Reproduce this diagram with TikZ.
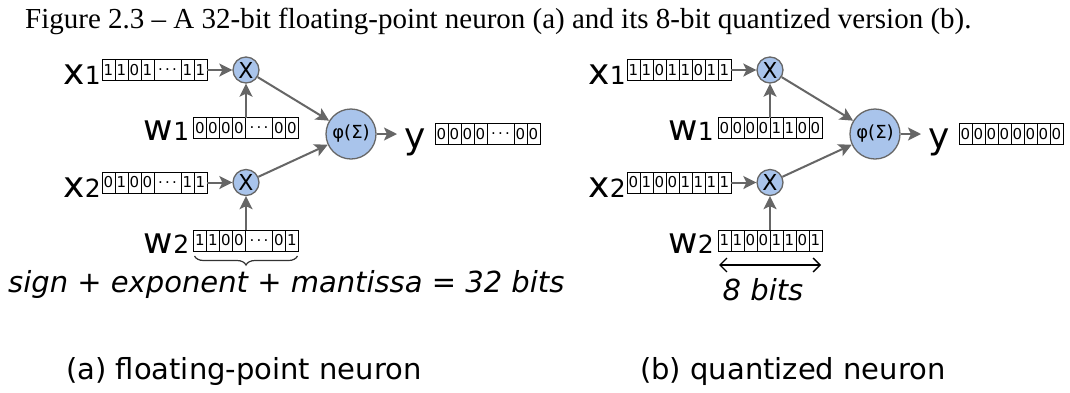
\documentclass[tikz,border=0pt]{standalone}
\usepackage{fontspec}
\setmainfont{DejaVu Sans}
\newfontfamily\capfont{Liberation Serif}
\usetikzlibrary{arrows.meta,fit,calc,decorations.pathreplacing}
\definecolor{edgegray}{HTML}{666666}
\definecolor{nodeblue}{HTML}{A9C4EB}
\newcommand\bdots{\makebox[19pt]{.\hfill.\hfill.}}
\newcommand\varlab[2]{{\fontsize{36}{36}\selectfont #1}{\fontsize{25}{25}\selectfont #2}}
\newcommand\bitrow[4]{%
  \foreach \s/\t [count=\i, remember=\i as \j (initially 0)] in {#3} {
    \ifnum\i=1
      \node[cell\s] (#1-\i) at (#2) {\t};
    \else
      \node[cell\s] (#1-\i) at (#1-\j.east) {\t};
    \fi
  }
  \node[fit=(#1-1)(#1-#4), inner sep=0pt, outer sep=0pt] (#1) {};
}
\begin{document}
\begin{tikzpicture}[x=1pt,y=-1pt,
  cellc/.style={draw=black, line width=1pt, minimum width=13pt, minimum height=21pt,
    inner sep=0pt, outer sep=0pt, anchor=west, font=\fontsize{15}{15}\selectfont},
  celld/.style={cellc, minimum width=27pt},
  opnode/.style={circle, draw=edgegray, fill=nodeblue, line width=1.3pt,
    minimum size=26pt, inner sep=0pt, font=\fontsize{22}{22}\selectfont},
  actnode/.style={opnode, minimum size=50pt, font=\fontsize{18}{18}\selectfont},
  lab/.style={inner sep=0pt, anchor=base east},
  ylab/.style={inner sep=0pt, anchor=base west, font=\fontsize{36}{36}\selectfont},
  arr/.style={draw=edgegray, line width=2pt, -{Stealth[length=13pt,width=13pt,inset=3pt]}},
  bracestyle/.style={draw=black!80, line width=1.2pt, decorate,
    decoration={brace, mirror, amplitude=9pt}},
  dbl/.style={draw=black, line width=1.3pt,
    {Straight Barb[length=7pt,width=14pt]}-{Straight Barb[length=7pt,width=14pt]}},
  note/.style={inner sep=0pt, font=\itshape\fontsize{29}{29}\selectfont},
  sub/.style={inner sep=0pt, anchor=base west, font=\fontsize{29}{29}\selectfont}
]
\useasboundingbox (0,0) rectangle (1070,392);
\fill[white] (0,0) rectangle (1070,392);

\node[inner sep=0pt, anchor=base west, font=\capfont\fontsize{29}{29}\selectfont] (cap)
  at (25,28) {Figure 2.3 – A 32-bit floating-point neuron (a) and its 8-bit quantized version (b).};

% ---------------- (a) floating-point neuron ----------------
\bitrow{xa1}{102,70}{c/1,c/1,c/0,c/1,d/\bdots,c/1,c/1}{7}
\bitrow{wa1}{193.5,128}{c/0,c/0,c/0,c/0,d/\bdots,c/0,c/0}{7}
\bitrow{xa2}{102,182.5}{c/0,c/1,c/0,c/0,d/\bdots,c/1,c/1}{7}
\bitrow{wa2}{193.5,240.5}{c/1,c/1,c/0,c/0,d/\bdots,c/0,c/1}{7}
\bitrow{ybita}{435,134}{c/0,c/0,c/0,c/0,d/\bdots,c/0,c/0}{7}

\node[opnode] (ma1) at (246,70) {X};
\node[opnode] (ma2) at (246,182.5) {X};
\node[actnode] (phia) at (351,134) {φ(Σ)};
\node[ylab] (ya) at (404,148) {y};

\node[lab] (lxa1) at ($(xa1.south west)+(-1,4)$) {\varlab{x}{1}};
\node[lab] (lwa1) at ($(wa1.south west)+(-4,2)$) {\varlab{w}{1}};
\node[lab] (lxa2) at ($(xa2.south west)+(-1,4)$) {\varlab{x}{2}};
\node[lab] (lwa2) at ($(wa2.south west)+(-4,2)$) {\varlab{w}{2}};

\draw[arr] (xa1.east) -- (ma1);
\draw[arr] (xa2.east) -- (ma2);
\draw[arr] (wa1) -- (ma1);
\draw[arr] (wa2) -- (ma2);
\draw[arr] (ma1) -- (phia);
\draw[arr] (ma2) -- (phia);
\draw[arr, shorten >=7pt] (phia.east) -- (phia.east -| ya.west);

\draw[bracestyle] ($(wa2.south west)+(1,5)$) -- ($(wa2.south east)+(-1,5)$);
\node[note, anchor=base west] (nota) at (8,292) {sign + exponent + mantissa = 32 bits};

\node[sub] (suba) at (66,379) {(a) floating-point neuron};

% ---------------- (b) quantized neuron ----------------
\begin{scope}[xshift=524pt]
\bitrow{xb1}{103,70}{c/1,c/1,c/0,c/1,c/1,c/0,c/1,c/1}{8}
\bitrow{wb1}{194,128}{c/0,c/0,c/0,c/0,c/1,c/1,c/0,c/0}{8}
\bitrow{xb2}{103,182.5}{c/0,c/1,c/0,c/0,c/1,c/1,c/1,c/1}{8}
\bitrow{wb2}{194,240.5}{c/1,c/1,c/0,c/0,c/1,c/1,c/0,c/1}{8}
\bitrow{ybitb}{435,134}{c/0,c/0,c/0,c/0,c/0,c/0,c/0,c/0}{8}

\node[opnode] (mb1) at (246,70) {X};
\node[opnode] (mb2) at (246,182.5) {X};
\node[actnode] (phib) at (351,134) {φ(Σ)};
\node[ylab] (yb) at (404,148) {y};

\node[lab] (lxb1) at ($(xb1.south west)+(-1,4)$) {\varlab{x}{1}};
\node[lab] (lwb1) at ($(wb1.south west)+(-4,2)$) {\varlab{w}{1}};
\node[lab] (lxb2) at ($(xb2.south west)+(-1,4)$) {\varlab{x}{2}};
\node[lab] (lwb2) at ($(wb2.south west)+(-4,2)$) {\varlab{w}{2}};

\draw[arr] (xb1.east) -- (mb1);
\draw[arr] (xb2.east) -- (mb2);
\draw[arr] (wb1) -- (mb1);
\draw[arr] (wb2) -- (mb2);
\draw[arr] (mb1) -- (phib);
\draw[arr] (mb2) -- (phib);
\draw[arr, shorten >=7pt] (phib.east) -- (phib.east -| yb.west);

\draw[dbl] ($(wb2.south west)+(1,14)$) -- ($(wb2.south east)+(-1,14)$);
\node[note, anchor=base] (notb) at ($(wb2.south)+(-7,49)$) {8 bits};

\node[sub] (subb) at (116,379) {(b) quantized neuron};
\end{scope}
\end{tikzpicture}
\end{document}
